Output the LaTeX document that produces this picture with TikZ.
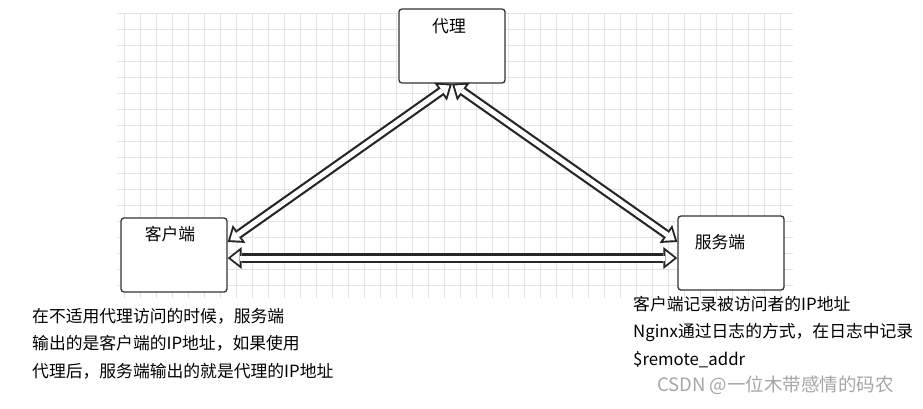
\documentclass[tikz,border=0pt]{standalone}
\usepackage{fontspec}
\setmainfont{Noto Sans CJK SC}
\usetikzlibrary{positioning,arrows.meta}
\definecolor{gridgray}{HTML}{E3E3E3}
\definecolor{edgegray}{HTML}{333333}
\definecolor{markgray}{HTML}{A6A6A6}

\begin{document}
\begin{tikzpicture}[x=1pt, y=-1pt, every node/.style={font=\fontsize{16.8}{27.5}\selectfont},
  box/.style={draw=edgegray, line width=1.3pt, rounded corners=3pt, fill=white, minimum width=106pt, minimum height=74pt, inner sep=0pt},
  lbl/.style={inner sep=0pt},
  note/.style={inner sep=0pt, align=left, anchor=north west, text=black},
  flexout/.style={draw=black!85, line width=9.4pt, {Triangle[length=14pt, width=22pt, line width=0pt]}-{Triangle[length=14pt, width=22pt, line width=0pt]}},
  flexin/.style={draw=white, line width=5pt, shorten <=3.1pt, shorten >=3.1pt, {Triangle[length=8.9pt, width=14pt, line width=0pt]}-{Triangle[length=8.9pt, width=14pt, line width=0pt]}}]
\useasboundingbox (0,0) rectangle (923,408);
\fill[white] (0,0) rectangle (923,408);
% grid paper
\begin{scope}[shift={(124.5,13)}]
\draw[gridgray, line width=0.8pt, step=16pt] (-8,0) grid (668,285);
\end{scope}
% boxes
\node[box] (proxy) at (452,46) {};
\node[box] (client) at (174,255) {};
\node[box] (server) at (731,253) {};
\node[lbl, below=10pt of proxy.north, xshift=-3pt] (proxylbl) {代理};
\node[lbl, below=9pt of client.north, xshift=-4pt] (clientlbl) {客户端};
\node[lbl, below=19pt of server.north, xshift=-11pt] (serverlbl) {服务端};
% arrows
\draw[flexout] ([yshift=-3pt]client.east) -- ([yshift=-5pt]server.west);
\draw[flexout] (proxy.south) -- ([yshift=13pt]client.east);
\draw[flexout] (proxy.south) -- ([yshift=11pt]server.west);
\draw[flexin] ([yshift=-3pt]client.east) -- ([yshift=-5pt]server.west);
\draw[flexin] (proxy.south) -- ([yshift=13pt]client.east);
\draw[flexin] (proxy.south) -- ([yshift=11pt]server.west);
% notes
\node[note] (leftnote) at (32,308) {在不适用代理访问的时候，服务端\\输出的是客户端的IP地址，如果使用\\代理后，服务端输出的就是代理的IP地址};
\node[note] (rightnote) at (633,296) {客户端记录被访问者的IP地址\\Nginx通过日志的方式，在日志中记录\\\$remote\_addr};
\node[note, text=markgray, font=\fontsize{18.5}{20}\selectfont] (mark) at (657,376) {CSDN @一位木带感情的码农};
\end{tikzpicture}
\end{document}
